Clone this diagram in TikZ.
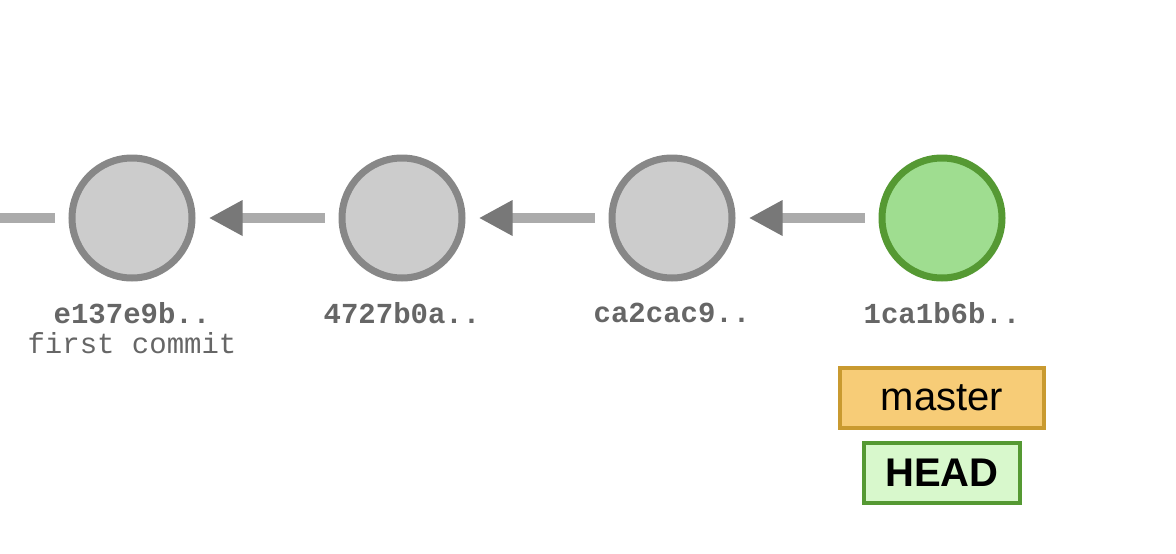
\documentclass[tikz,border=0pt]{standalone}
\usepackage{fontspec}
\setmainfont{Liberation Sans}
\newfontfamily\monof{Liberation Mono}
\begin{document}
\begin{tikzpicture}[x=1pt,y=-1pt,
  commit/.style={circle,draw=black!47,fill=black!20,line width=7pt,minimum size=120pt,inner sep=0},
  link/.style={draw=black!33,line width=10pt},
  tip/.style={fill=black!53},
  hash/.style={font=\monof\bfseries\fontsize{29}{29}\selectfont,text=black!60},
  msg/.style={font=\monof\fontsize{29}{29}\selectfont,text=black!60}]
\definecolor{gstroke}{HTML}{559933}
\definecolor{gfill}{HTML}{9FDD90}
\definecolor{mfill}{HTML}{F7CC77}
\definecolor{mstroke}{HTML}{C99A30}
\definecolor{hfill}{HTML}{D8F8CC}
\useasboundingbox (0,0) rectangle (1176,554);
\node[commit] (c1) at (132,218) {};
\node[commit] (c2) at (402,218) {};
\node[commit] (c3) at (672,218) {};
\node[commit,draw=gstroke,fill=gfill] (c4) at (942,218) {};
\coordinate (l0) at (0,218);
\coordinate (l1) at (55,218);
\draw[link] (l0) -- (l1);
\foreach \a/\b in {c2/c1,c3/c2,c4/c3}{
  \draw[link] ([xshift=-14pt]\a.west) -- ([xshift=30pt]\b.east);
  \fill[tip] ([xshift=14pt]\b.east) -- ([xshift=47pt,yshift=-18pt]\b.east) -- ([xshift=47pt,yshift=18pt]\b.east) -- cycle;
}
\node[hash] (h1) at (132,313) {e137e9b..};
\node[msg] (m1) at (132,343) {first commit};
\node[hash] (h2) at (402,313) {4727b0a..};
\node[hash] (h3) at (672,313) {ca2cac9..};
\node[hash] (h4) at (942,313) {1ca1b6b..};
\node[draw=mstroke,fill=mfill,line width=4pt,minimum width=204pt,minimum height=60pt,font=\fontsize{40}{40}\selectfont] (master) at (942,398) {master};
\node[draw=gstroke,fill=hfill,line width=4pt,minimum width=156pt,minimum height=60pt,font=\bfseries\fontsize{40}{40}\selectfont] (HEAD) at (942,473) {HEAD};
\end{tikzpicture}
\end{document}
